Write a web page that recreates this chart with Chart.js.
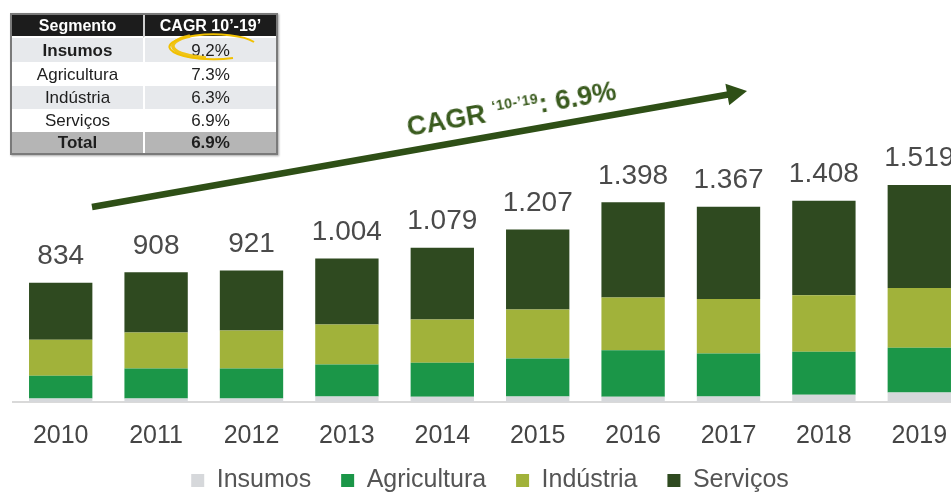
<!DOCTYPE html>
<html><head><meta charset="utf-8">
<script src="https://cdn.jsdelivr.net/npm/chart.js@4.4.1/dist/chart.umd.min.js"></script>
<style>
html,body{margin:0;padding:0;overflow:hidden;background:#fff;width:951px;height:493px;}
#wrap{position:absolute;left:0;top:0;width:967px;height:503px;}
#tbl{position:absolute;left:10px;top:13px;border-collapse:separate;border-spacing:0;table-layout:fixed;border:2px solid #7a7a7a;font-family:"Liberation Sans",Arial,sans-serif;color:#1e1e1e;box-shadow:1px 1px 2px rgba(0,0,0,0.35);z-index:2;background:#fff;}
#tbl th,#tbl td{padding:0;text-align:center;line-height:1;white-space:nowrap;}
#tbl th{background:#1c1c1c;color:#fff;font-weight:bold;font-size:16px;height:21px;border-bottom:2px solid #fff;}
#tbl td{font-size:17px;}
#tbl .c1{width:131px;}
#tbl .c2{width:131px;border-left:2px solid #fff;}
#tbl th.c2{border-left:2px solid #cfcfcf;}
#tbl tr.g td{background:#e7e9ec;}
#tbl tr.t td{background:#b5b5b5;font-weight:bold;}
#tbl td.b{font-weight:bold;}
#cagr{position:absolute;left:410px;top:115px;transform-origin:0 100%;transform:rotate(-10deg);font-family:"Liberation Sans",Arial,sans-serif;font-weight:bold;font-size:27px;line-height:25px;color:#3a5b1e;white-space:nowrap;z-index:2;}
#cagr sup{font-size:14px;vertical-align:0;position:relative;top:-10px;letter-spacing:0.5px;}
#ell{position:absolute;left:0;top:0;z-index:3;}
</style></head>
<body>
<div id="wrap"><canvas id="c"></canvas></div>
<table id="tbl">
<tr><th class="c1">Segmento</th><th class="c2">CAGR 10’-19’</th></tr>
<tr class="g" style="height:24px"><td class="c1 b">Insumos</td><td class="c2">9.2%</td></tr>
<tr style="height:24px"><td class="c1">Agricultura</td><td class="c2">7.3%</td></tr>
<tr class="g" style="height:23px"><td class="c1">Indústria</td><td class="c2">6.3%</td></tr>
<tr style="height:23px"><td class="c1">Serviços</td><td class="c2">6.9%</td></tr>
<tr class="t" style="height:21px"><td class="c1">Total</td><td class="c2">6.9%</td></tr>
</table>
<svg id="ell" width="300" height="80">
<path d="M 254 42 A 44 12.5 0 1 0 233 58" fill="none" stroke="#f1c000" stroke-width="2"/>
<path d="M 190 36 A 44 12.5 0 0 0 206 58" fill="none" stroke="#f1c000" stroke-width="3.5" opacity="0.9"/>
</svg>
<div id="cagr">CAGR <sup>‘10-’19</sup>: 6.9%</div>
<script>
const years = ['2010','2011','2012','2013','2014','2015','2016','2017','2018','2019'];
const insumos     = [24, 24, 24, 38, 37, 38, 37, 38, 51, 66];
const agricultura = [160,210,210,225,238,266,326,302,301,313];
const industria   = [251,252,266,279,303,343,368,381,396,419];
const servicos    = [399,422,421,462,501,560,667,646,660,721];
const seriesNames = ['Insumos','Agricultura','Indústria','Serviços'];
const seriesColors = ['#d6d8db','#1b9648','#a1b23a','#2f4a20'];

function fmt(n){ return n >= 1000 ? Math.floor(n/1000) + '.' + String(n % 1000).padStart(3,'0') : String(n); }

const totalsPlugin = {
  id:'totals',
  afterDatasetsDraw(chart){
    const ctx = chart.ctx;
    const top = chart.getDatasetMeta(chart.data.datasets.length-1);
    ctx.save();
    ctx.font = '28px "Liberation Sans", Arial, sans-serif';
    ctx.fillStyle = '#4a4a4a';
    ctx.textAlign = 'center';
    ctx.textBaseline = 'alphabetic';
    top.data.forEach((bar,i)=>{
      let s = 0; chart.data.datasets.forEach(d=>{ s += d.data[i]; });
      ctx.fillText(fmt(s), bar.x, bar.y - 18.5);
    });
    ctx.restore();
  }
};
const arrowPlugin = {
  id:'arrow',
  afterDraw(chart){
    const ctx = chart.ctx;
    const x0=92,y0=207,x1=747,y1=91;
    const a = Math.atan2(y1-y0,x1-x0), hl=20, hw=11;
    const bx = x1-hl*Math.cos(a), by = y1-hl*Math.sin(a);
    ctx.save();
    ctx.strokeStyle = ctx.fillStyle = '#2e4f16';
    ctx.lineWidth = 6.5;
    ctx.beginPath(); ctx.moveTo(x0,y0); ctx.lineTo(bx+1,by); ctx.stroke();
    ctx.beginPath(); ctx.moveTo(x1,y1);
    ctx.lineTo(bx+hw*Math.sin(a), by-hw*Math.cos(a));
    ctx.lineTo(bx-hw*Math.sin(a), by+hw*Math.cos(a));
    ctx.closePath(); ctx.fill();
    ctx.restore();
  }
};

const datasets = [insumos, agricultura, industria, servicos].map((d,i)=>({
  label: seriesNames[i], data: d, backgroundColor: seriesColors[i], borderWidth: 0,
  barPercentage: 0.664, categoryPercentage: 1.0
}));

new Chart(document.getElementById('c'), {
  type:'bar',
  data:{ labels: years, datasets },
  options:{
    responsive:true, maintainAspectRatio:false, animation:false,
    layout:{ padding:{ top:173.4, left:13, right:0, bottom:0 } },
    scales:{
      x:{ stacked:true, grid:{display:false, drawTicks:false},
          border:{display:true, color:'#d9d9d9', width:2},
          ticks:{ padding:19, color:'#454545', font:{ family:'"Liberation Sans", Arial, sans-serif', size:25 } },
          afterFit(scale){ scale.height = 43; } },
      y:{ stacked:true, display:false, min:0, max:1600 }
    },
    plugins:{
      legend:{ position:'bottom',
        labels:{ boxWidth:13, boxHeight:13, padding:23, color:'#555555',
                 font:{ family:'"Liberation Sans", Arial, sans-serif', size:25 },
                 generateLabels(chart){
                   const items = Chart.defaults.plugins.legend.labels.generateLabels(chart);
                   items.forEach((it,i)=>{ it.text = it.text + (i < items.length-1 ? ' ' : ''); });
                   return items;
                 } } },
      tooltip:{ enabled:false }
    }
  },
  plugins:[totalsPlugin, arrowPlugin]
});
</script>
</body></html>
